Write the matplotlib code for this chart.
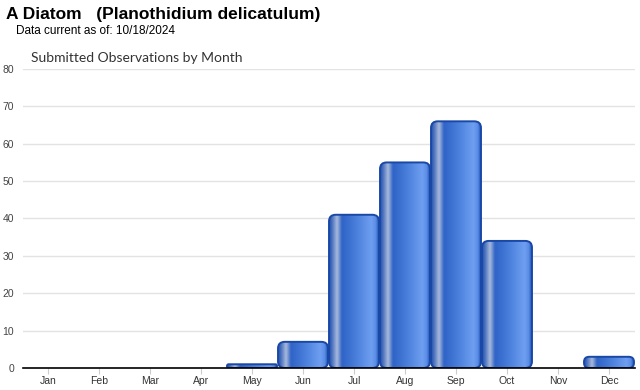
import matplotlib
matplotlib.use("Agg")
import matplotlib.pyplot as plt
import numpy as np
from matplotlib.patches import FancyBboxPatch
from matplotlib.colors import LinearSegmentedColormap

months = ["Jan", "Feb", "Mar", "Apr", "May", "Jun", "Jul", "Aug", "Sep", "Oct", "Nov", "Dec"]
counts = [0, 0, 0, 0, 1, 7, 41, 55, 66, 34, 0, 3]
yticks = [0, 10, 20, 30, 40, 50, 60, 70, 80]

fig = plt.figure(figsize=(6.4, 3.9), dpi=100)
ax = fig.add_axes([22.5 / 640, 22 / 390, 612 / 640, 299 / 390])

x = np.arange(len(months))

# horizontal shading across each bar
shade = LinearSegmentedColormap.from_list("bar", [
    (0.00, "#1d4fae"),
    (0.08, "#5d7fc4"),
    (0.16, "#a9bbdc"),
    (0.26, "#2f63c6"),
    (0.55, "#4a7fdc"),
    (0.85, "#6f9ff0"),
    (0.94, "#5a8de6"),
    (1.00, "#1d4fae"),
])
grad = np.linspace(0, 1, 256).reshape(1, -1)

bar_w = 0.98
aspect = (51 / 3.74)  # y units per x unit at equal pixel size
for xi, v in zip(x, counts):
    if v <= 0:
        continue
    left = xi - bar_w / 2
    r = min(0.13, v / aspect / 2.2)
    patch = FancyBboxPatch((left, 0), bar_w, v,
                           boxstyle="round,pad=0,rounding_size=%f" % r,
                           mutation_aspect=aspect,
                           facecolor="none", edgecolor="#1a48a6", linewidth=1.4, zorder=4)
    ax.add_patch(patch)
    im = ax.imshow(grad, cmap=shade, aspect="auto", extent=(left, left + bar_w, 0, v),
                   interpolation="bicubic", zorder=3)
    im.set_clip_path(patch)

ax.set_xlim(-0.5, 11.5)
ax.set_ylim(0, 80)

for yv in yticks[1:]:
    ax.axhline(yv, color="#e3e3e3", linewidth=1, zorder=1)
ax.axhline(0, color="black", linewidth=1.2, zorder=5, clip_on=False)

for s in ax.spines.values():
    s.set_visible(False)
ax.set_yticks(yticks)
ax.set_yticklabels([str(t) for t in yticks], fontsize=7.5, color="#444444", family="Liberation Sans")
ax.tick_params(axis="y", length=0, pad=6)
ax.set_xticks(x)
ax.set_xticklabels(months, fontsize=7.5, color="#333333", family="Liberation Sans")
ax.tick_params(axis="x", length=4, color="#cccccc", pad=2, direction="out")

fig.text(6 / 640, 1 - 14 / 390, "A Diatom   (Planothidium delicatulum)", fontsize=12.5,
         fontweight="bold", family="Liberation Sans", va="center", ha="left")
fig.text(16 / 640, 1 - 31 / 390, "Data current as of: 10/18/2024", fontsize=8.5,
         family="Liberation Sans", va="center", ha="left")
fig.text(31 / 640, 1 - 58 / 390, "Submitted Observations by Month", fontsize=10,
         family="Lato", color="#333333", va="center", ha="left")

fig.savefig("out.png", dpi=100)
